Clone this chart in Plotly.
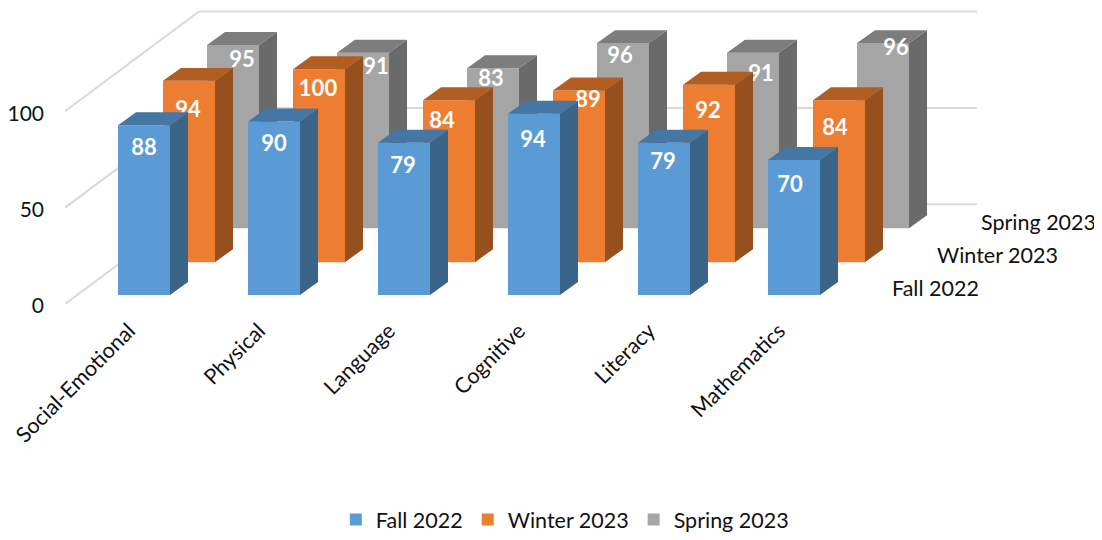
import plotly.graph_objects as go

categories = ["Social-Emotional", "Physical", "Language", "Cognitive", "Literacy", "Mathematics"]
fall_2022 = [88, 90, 79, 94, 79, 70]
winter_2023 = [94, 100, 84, 89, 92, 84]
spring_2023 = [95, 91, 83, 96, 91, 96]
value_ticks = [0, 50, 100]

FONT = "Lato"
OFF = 8                           # the page body adds this margin on the left and top
W, H = 1102 - OFF, 540 - OFF
PLOT_L, PLOT_B = 65 - OFF, 305 - OFF
CAT_PX, VAL_PX = 130.0, 1.935     # px per category, px per value unit
BAR_W = 52 / CAT_PX
SIDE_DX, SIDE_DY = 18 / CAT_PX, 13 / VAL_PX
LABEL_SHIFT = 15 / CAT_PX
LABEL_DROP = 2.5

# name, values, first bar centre px, baseline px, face colours, label nudges (px right, px below top)
series = [
    ("Spring 2023", spring_2023, 233 - OFF, 229 - OFF, ("#A5A5A5", "#6A6A6A", "#7D7D7D"),
     [(9, 14), (13, 13), (-2, 10), (-3, 12), (8, 20), (13, 4)]),
    ("Winter 2023", winter_2023, 189 - OFF, 263 - OFF, ("#ED7D31", "#95501E", "#B25E22"),
     [(-1, 28), (-1, 19), (-7, 20), (9, 9), (-1, 25), (-4, 27)]),
    ("Fall 2022", fall_2022, 144 - OFF, 296 - OFF, ("#5B9BD5", "#3A6589", "#4676A3"),
     [(0, 22), (0, 22), (-1, 22), (-1, 25), (-1, 18), (-4, 24)]),
]

fig = go.Figure()
xrange_for = lambda c: [(PLOT_L - c) / CAT_PX, (W - c) / CAT_PX]
yrange_for = lambda b: [-(PLOT_B - b) / VAL_PX, b / VAL_PX]
BASE_C = 144 - OFF
base_x = lambda px: (px - OFF - BASE_C) / CAT_PX
base_y = lambda py: (PLOT_B - (py - OFF)) / VAL_PX

# walls: value gridlines on the base axes
wall_x, wall_y = [], []
for v in value_ticks:
    wall_x += [base_x(65), base_x(199), base_x(977), None]
    wall_y += [v, v + 100 / VAL_PX, v + 100 / VAL_PX, None]
fig.add_trace(go.Scatter(x=wall_x, y=wall_y, mode="lines", showlegend=False, hoverinfo="skip",
                         line=dict(color="#D9D9D9", width=2), xaxis="x", yaxis="y"))

# depth-axis labels
fig.add_trace(go.Scatter(
    x=[base_x(981), base_x(937), base_x(892)], y=[base_y(225), base_y(258), base_y(292)],
    text=[s[0] for s in series], mode="text", textposition="middle right",
    textfont=dict(family=FONT, size=21.5, color="#111111"),
    showlegend=False, hoverinfo="skip", xaxis="x", yaxis="y"))

layout_axes = {}
for k, (name, vals, c, b, (front, side, top), nudges) in enumerate(series):
    n = k + 2
    xa, ya = f"x{n}", f"y{n}"
    idx = list(range(len(vals)))
    fig.add_trace(go.Bar(x=idx, y=vals, width=BAR_W, name=name, marker=dict(color=front, line=dict(width=0)),
                         xaxis=xa, yaxis=ya, hoverinfo="skip"))
    sx, sy, tx, ty = [], [], [], []
    for i, v in zip(idx, vals):
        r, l = i + BAR_W / 2, i - BAR_W / 2
        sx += [r, r + SIDE_DX, r + SIDE_DX, r, r, None]
        sy += [0, SIDE_DY, v + SIDE_DY, v, 0, None]
        tx += [l, r, r + SIDE_DX, l + SIDE_DX, l, None]
        ty += [v, v, v + SIDE_DY, v + SIDE_DY, v, None]
    for X, Y, col in ((sx, sy, side), (tx, ty, top)):
        fig.add_trace(go.Scatter(x=X, y=Y, mode="lines", fill="toself", fillcolor=col,
                                 line=dict(width=0, color=col), showlegend=False, hoverinfo="skip",
                                 xaxis=xa, yaxis=ya))
    fig.add_trace(go.Scatter(
        x=[i + d[0] / CAT_PX for i, d in zip(idx, nudges)],
        y=[v - (d[1] + LABEL_DROP) / VAL_PX for v, d in zip(vals, nudges)],
        text=[str(v) for v in vals], mode="text", textposition="middle center",
        textfont=dict(family=FONT, size=22, color="white", weight="bold"),
        showlegend=False, hoverinfo="skip", xaxis=xa, yaxis=ya))
    layout_axes[f"xaxis{n}"] = dict(overlaying="x", range=xrange_for(c), visible=False, fixedrange=True)
    layout_axes[f"yaxis{n}"] = dict(overlaying="y", range=yrange_for(b), visible=False, fixedrange=True, anchor=xa)

fig.update_layout(
    width=W, height=H,
    margin=dict(l=PLOT_L, r=0, t=0, b=H - PLOT_B),
    paper_bgcolor="white", plot_bgcolor="rgba(0,0,0,0)",
    barmode="overlay",
    font=dict(family=FONT, size=21.5, color="#111111"),
    xaxis=dict(range=xrange_for(BASE_C), tickmode="array",
               tickvals=[i - LABEL_SHIFT for i in range(len(categories))],
               ticktext=categories, tickangle=-45, showgrid=False, zeroline=False, showline=False,
               ticks="", ticklabelstandoff=9, tickfont=dict(family=FONT, size=21.5, color="#111111")),
    yaxis=dict(range=[0, PLOT_B / VAL_PX], tickmode="array", tickvals=value_ticks, showgrid=False,
               zeroline=False, showline=False, ticks="", ticklabelstandoff=20, ticklabelshift=2,
               tickfont=dict(family=FONT, size=21, color="#111111")),
    legend=dict(orientation="h", traceorder="reversed", x=0.482, xanchor="center", y=-0.73, yanchor="middle",
                font=dict(family=FONT, size=21.5, color="#111111"), itemclick=False, itemdoubleclick=False),
    showlegend=True,
    **layout_axes,
)
fig.write_html("out.html", config=dict(displayModeBar=False))
